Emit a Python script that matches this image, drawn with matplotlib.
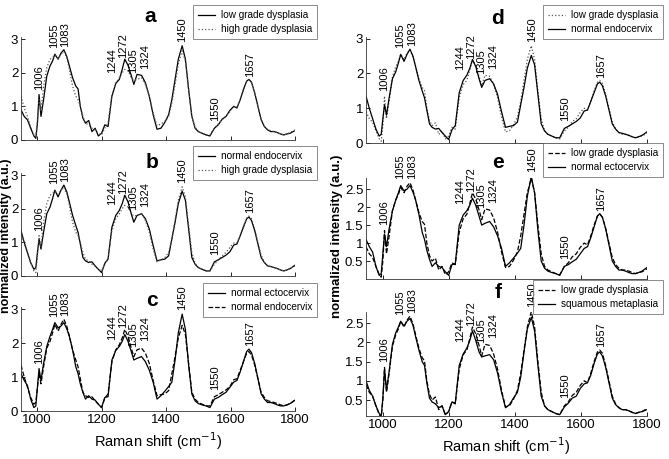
import numpy as np
import matplotlib.pyplot as plt

plt.rcParams['font.family'] = ['Liberation Sans', 'DejaVu Sans']

# Raman shift grid (cm-1)
shift = [950, 960, 970, 980, 990, 996, 1001, 1006, 1012, 1020,
         1030, 1040, 1048, 1055, 1065, 1074, 1083, 1092, 1100, 1110,
         1120, 1127, 1134, 1142, 1150, 1160, 1170, 1180, 1190, 1200,
         1210, 1220, 1232, 1244, 1255, 1264, 1272, 1282, 1292, 1300,
         1310, 1324, 1336, 1348, 1360, 1372, 1384, 1396, 1408, 1418,
         1428, 1438, 1450, 1460, 1470, 1480, 1490, 1500, 1512, 1524,
         1536, 1550, 1562, 1574, 1586, 1598, 1610, 1620, 1630, 1640,
         1650, 1657, 1665, 1675, 1685, 1695, 1705, 1715, 1725, 1735,
         1745, 1755, 1765, 1775, 1785, 1800]

low_grade = [0.90, 0.70, 0.60, 0.35, 0.12, 0.05, 0.50, 1.35, 0.70, 1.20,
             1.90, 2.20, 2.35, 2.55, 2.40, 2.58, 2.68, 2.48, 2.20, 1.85,
             1.60, 1.52, 1.00, 0.65, 0.50, 0.58, 0.25, 0.35, 0.12, 0.20,
             0.45, 0.40, 1.30, 1.68, 1.80, 2.10, 2.40, 2.22, 1.92, 1.65,
             1.95, 1.92, 1.70, 1.30, 0.75, 0.32, 0.35, 0.52, 0.75, 1.20,
             1.80, 2.40, 2.80, 2.40, 1.50, 0.70, 0.35, 0.25, 0.20, 0.15,
             0.12, 0.35, 0.45, 0.62, 0.70, 0.88, 1.00, 0.95, 1.20, 1.50,
             1.75, 1.80, 1.72, 1.40, 1.00, 0.60, 0.40, 0.30, 0.25, 0.25,
             0.22, 0.18, 0.15, 0.18, 0.20, 0.28]

high_grade = [1.30, 0.95, 0.70, 0.40, 0.15, 0.10, 0.60, 1.20, 0.85, 1.60,
              2.15, 2.40, 2.45, 2.52, 2.42, 2.55, 2.62, 2.45, 2.10, 1.60,
              1.30, 1.20, 1.00, 0.70, 0.50, 0.45, 0.35, 0.30, 0.20, 0.15,
              0.35, 0.50, 1.35, 1.70, 1.85, 2.00, 2.10, 2.05, 1.85, 1.78,
              1.80, 1.85, 1.65, 1.30, 0.80, 0.42, 0.48, 0.55, 0.70, 1.10,
              1.65, 2.25, 2.65, 2.35, 1.50, 0.70, 0.38, 0.25, 0.20, 0.15,
              0.15, 0.35, 0.48, 0.60, 0.70, 0.85, 0.98, 0.98, 1.20, 1.48,
              1.72, 1.78, 1.70, 1.40, 1.00, 0.62, 0.40, 0.30, 0.28, 0.25,
              0.22, 0.18, 0.15, 0.18, 0.22, 0.30]

endocervix = [1.35, 1.00, 0.70, 0.40, 0.20, 0.25, 0.70, 1.10, 0.80, 1.30,
              1.85, 2.05, 2.30, 2.55, 2.35, 2.55, 2.70, 2.50, 2.20, 1.80,
              1.50, 1.30, 0.95, 0.55, 0.45, 0.40, 0.42, 0.30, 0.20, 0.10,
              0.38, 0.50, 1.45, 1.80, 1.95, 2.15, 2.40, 2.20, 1.85, 1.60,
              1.80, 1.85, 1.70, 1.40, 0.90, 0.45, 0.48, 0.50, 0.60, 1.10,
              1.60, 2.15, 2.52, 2.25, 1.40, 0.55, 0.35, 0.25, 0.20, 0.15,
              0.15, 0.42, 0.48, 0.55, 0.62, 0.72, 0.92, 0.95, 1.20, 1.45,
              1.70, 1.75, 1.65, 1.35, 0.95, 0.55, 0.40, 0.30, 0.28, 0.25,
              0.22, 0.18, 0.15, 0.18, 0.22, 0.32]

ectocervix = [1.10, 0.90, 0.75, 0.35, 0.10, 0.15, 0.70, 1.25, 0.90, 1.40,
              1.90, 2.20, 2.40, 2.60, 2.45, 2.50, 2.60, 2.42, 2.20, 1.80,
              1.30, 1.10, 0.80, 0.55, 0.35, 0.45, 0.35, 0.32, 0.20, 0.10,
              0.40, 0.42, 1.50, 1.78, 1.90, 2.05, 2.25, 2.05, 1.75, 1.50,
              1.55, 1.60, 1.45, 1.20, 0.85, 0.35, 0.45, 0.58, 0.72, 0.85,
              1.50, 2.30, 2.85, 2.40, 1.35, 0.50, 0.30, 0.22, 0.18, 0.15,
              0.10, 0.35, 0.40, 0.48, 0.55, 0.70, 0.85, 0.90, 1.15, 1.45,
              1.75, 1.82, 1.72, 1.40, 0.95, 0.50, 0.35, 0.25, 0.25, 0.22,
              0.18, 0.15, 0.15, 0.18, 0.22, 0.32]

squamous = [1.00, 0.75, 0.60, 0.35, 0.15, 0.08, 0.55, 1.30, 0.75, 1.25,
            1.95, 2.25, 2.40, 2.55, 2.42, 2.55, 2.62, 2.45, 2.15, 1.80,
            1.50, 1.40, 0.95, 0.55, 0.45, 0.40, 0.30, 0.35, 0.12, 0.20,
            0.45, 0.42, 1.40, 1.70, 1.85, 2.05, 2.30, 2.05, 1.75, 1.62,
            1.65, 1.68, 1.55, 1.20, 0.70, 0.30, 0.38, 0.55, 0.70, 1.10,
            1.75, 2.35, 2.65, 2.30, 1.40, 0.60, 0.35, 0.25, 0.20, 0.15,
            0.12, 0.32, 0.42, 0.55, 0.60, 0.80, 0.92, 0.95, 1.15, 1.45,
            1.70, 1.75, 1.65, 1.35, 0.95, 0.55, 0.38, 0.30, 0.25, 0.25,
            0.22, 0.18, 0.15, 0.18, 0.20, 0.25]

peaks = [1006, 1055, 1083, 1244, 1272, 1305, 1324, 1450, 1550, 1657]
peak_labels = ['1006', '1055', '1083', '1244', '1272', '1305', '1324', '1450', '1550', '1657']

# styles
solid = dict(color='black', ls='-', lw=0.9)
dotted = dict(color='#555555', ls=':', lw=0.9)
dashed = dict(color='black', ls='--', lw=0.9)

# panel: letter, (series1, name1, style1), (series2, name2, style2)
panels = [
    ('a', (low_grade, 'low grade dysplasia', solid), (high_grade, 'high grade dysplasia', dotted)),
    ('b', (endocervix, 'normal endocervix', solid), (high_grade, 'high grade dysplasia', dotted)),
    ('c', (ectocervix, 'normal ectocervix', solid), (endocervix, 'normal endocervix', dashed)),
    ('d', (low_grade, 'low grade dysplasia', dotted), (endocervix, 'normal endocervix', solid)),
    ('e', (low_grade, 'low grade dysplasia', dashed), (ectocervix, 'normal ectocervix', solid)),
    ('f', (low_grade, 'low grade dysplasia', dashed), (squamous, 'squamous metaplasia', solid)),
]

W, H = 669, 459
fig = plt.figure(figsize=(W / 100, H / 100), dpi=100)

# axes boxes in pixels: left, top, right, bottom
boxes = [(21, 37, 295, 140), (21, 173, 295, 276), (21, 307, 295, 411),
         (366, 37, 647, 143), (366, 178, 647, 279), (366, 312, 647, 416)]
ylims = [(0, 3.06), (0, 3.06), (0, 3.06), (0, 3.05), (0, 2.81), (0.085, 2.79)]
yticks = [[0, 1, 2, 3]] * 4 + [[0.5, 1, 1.5, 2, 2.5]] * 2
legend_boxes = [(317, 5), (317, 146), (317, 283), (663, 5), (663, 143), (663, 280)]
letter_pos = [(150, 17), (152, 163), (152, 300), (498, 18), (498, 162), (498, 293)]

label_x = [1006, 1052, 1088, 1234, 1267, 1299, 1334, 1451, 1551, 1660]
label_pad = [0.14, 0.17, 0.09, 0.30, 0.03, 0.18, 0.20, 0.12, 0.20, 0.08]

for i, (letter, s1, s2) in enumerate(panels):
    l, t, r, b = boxes[i]
    ax = fig.add_axes([l / W, 1 - b / H, (r - l) / W, (b - t) / H])
    ax.plot(shift, s1[0], label=s1[1], **s1[2])
    ax.plot(shift, s2[0], label=s2[1], **s2[2])
    ax.set_xlim(950, 1800)
    ax.set_ylim(*ylims[i])
    ax.set_xticks([1000, 1200, 1400, 1600, 1800])
    ax.set_yticks(yticks[i])
    ax.set_yticklabels([('%g' % v) for v in yticks[i]])
    ax.tick_params(direction='in', length=3, width=0.6, labelsize=9.5, pad=2)
    for sp in ['top', 'right']:
        ax.spines[sp].set_visible(False)
    for sp in ['left', 'bottom']:
        ax.spines[sp].set_linewidth(0.6)
        ax.spines[sp].set_color('#333333')
    if i in (2, 5):
        ax.set_xlabel('Raman shift (cm$^{-1}$)', fontsize=10.5, labelpad=3)
    else:
        ax.set_xticklabels([])

    # peak labels
    for p, lab, lx, pad in zip(peaks, peak_labels, label_x, label_pad):
        yv = max(np.interp(p, shift, s1[0]), np.interp(p, shift, s2[0])) + pad
        ax.text(lx, yv, lab, rotation=90, ha='center', va='bottom', fontsize=8)

    lx, ly = legend_boxes[i]
    leg = ax.legend(loc='upper right', bbox_to_anchor=(lx / W, 1 - ly / H),
                    bbox_transform=fig.transFigure, fontsize=7.2, frameon=True,
                    fancybox=False, edgecolor='#555555', handlelength=1.7,
                    borderpad=0.5, labelspacing=0.4, handletextpad=0.6,
                    borderaxespad=0)
    leg.get_frame().set_linewidth(0.6)

    px, py = letter_pos[i]
    fig.text(px / W, 1 - py / H, letter, fontsize=15, fontweight='bold',
             ha='center', va='center')

fig.text(6 / W, 1 - 236 / H, 'normalized intensity (a.u.)', rotation=90,
         ha='center', va='center', fontsize=9, fontweight='bold')
fig.text(337 / W, 1 - 236 / H, 'normalized intensity (a.u.)', rotation=90,
         ha='center', va='center', fontsize=9.5, fontweight='bold')

fig.savefig('out.png', dpi=100)
